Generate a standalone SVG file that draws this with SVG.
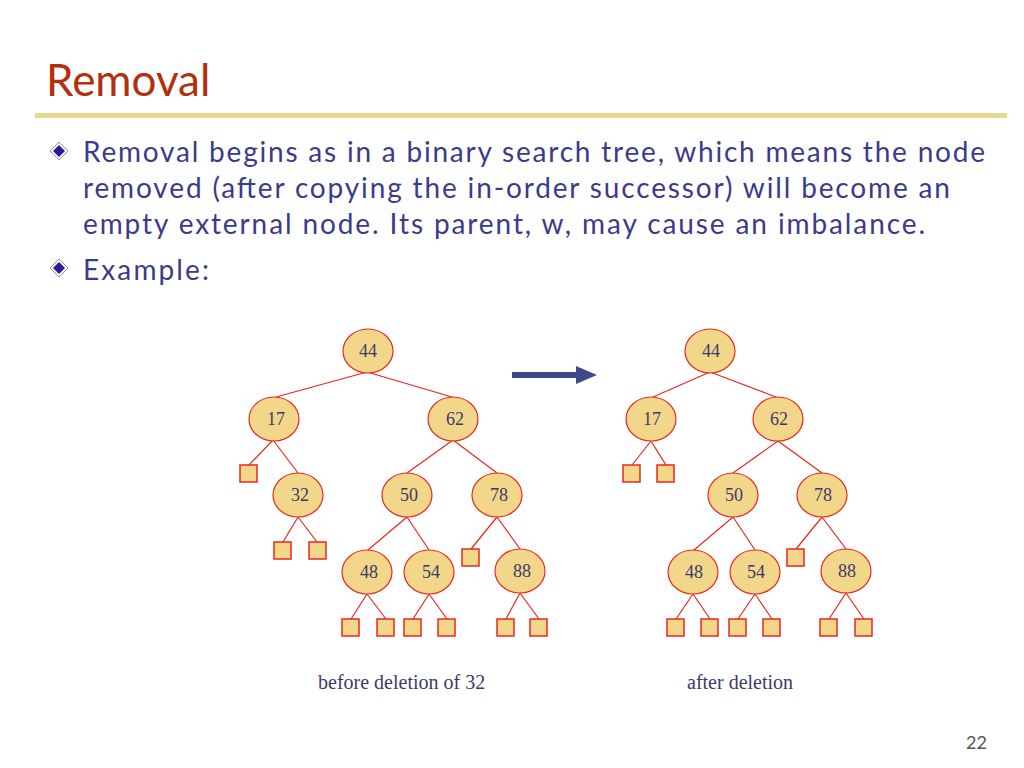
<svg xmlns="http://www.w3.org/2000/svg" width="1024" height="768" viewBox="0 0 1024 768">
<style>
.n ellipse{fill:#F2D68A;stroke:#E8281E;stroke-width:1.2}
.n text{font-family:"Liberation Serif",serif;font-size:18px;fill:#3B3B6B;text-anchor:middle}
.ext rect{fill:#F2D68A;stroke:#E8281E;stroke-width:1.5}
.c line{stroke:#E8281E;stroke-width:1.2}
.b{font-family:Lato,"Open Sans",sans-serif;font-size:28px;fill:#3B3B8C}
.cap{font-family:"Liberation Serif",serif;font-size:20px;fill:#3B3B6B}
</style>
<defs>
<g id="dia"><path d="M0,-9 L9,0 L0,9 L-9,0Z" fill="#fff" stroke="#9090C0"/><path d="M0,-6 L6,0 L0,6 L-6,0Z" fill="#2A1A9A"/></g>
</defs>
<rect width="1024" height="768" fill="#fff"/>
<text x="46" y="96" font-family="Lato,'Open Sans',sans-serif" font-size="44" fill="#B3300F">Removal</text>
<rect x="35" y="113" width="972" height="5" fill="#E8D890"/>
<use href="#dia" x="59" y="151"/>
<use href="#dia" x="59" y="268"/>
<text class="b" x="83" y="162" textLength="902">Removal begins as in a binary search tree, which means the node</text>
<text class="b" x="83" y="198" textLength="867">removed (after copying the in-order successor) will become an</text>
<text class="b" x="83" y="234" textLength="842">empty external node. Its parent, w, may cause an imbalance.</text>
<text class="b" x="83" y="280" textLength="126">Example:</text>
<g id="connectors" class="c">
<line x1="367" y1="372" x2="276" y2="397"/><line x1="367" y1="372" x2="452" y2="397"/>
<line x1="273" y1="440" x2="249" y2="465"/><line x1="273" y1="440" x2="298" y2="473"/>
<line x1="298" y1="517" x2="283" y2="542"/><line x1="298" y1="517" x2="317" y2="542"/>
<line x1="453" y1="440" x2="407" y2="473"/><line x1="453" y1="440" x2="497" y2="473"/>
<line x1="407" y1="517" x2="368" y2="550"/><line x1="407" y1="517" x2="429" y2="550"/>
<line x1="497" y1="517" x2="471" y2="549"/><line x1="497" y1="517" x2="520" y2="549"/>
<line x1="367" y1="594" x2="351" y2="619"/><line x1="367" y1="594" x2="386" y2="619"/>
<line x1="429" y1="594" x2="413" y2="619"/><line x1="429" y1="594" x2="447" y2="619"/>
<line x1="520" y1="593" x2="506" y2="619"/><line x1="520" y1="593" x2="539" y2="619"/>
<line x1="710" y1="372" x2="653" y2="397"/><line x1="710" y1="372" x2="776" y2="397"/>
<line x1="651" y1="441" x2="632" y2="465"/><line x1="651" y1="441" x2="666" y2="465"/>
<line x1="778" y1="441" x2="733" y2="473"/><line x1="778" y1="441" x2="822" y2="473"/>
<line x1="733" y1="517" x2="694" y2="550"/><line x1="733" y1="517" x2="755" y2="550"/>
<line x1="822" y1="517" x2="796" y2="549"/><line x1="822" y1="517" x2="846" y2="549"/>
<line x1="693" y1="594" x2="676" y2="619"/><line x1="693" y1="594" x2="710" y2="619"/>
<line x1="755" y1="594" x2="738" y2="619"/><line x1="755" y1="594" x2="772" y2="619"/>
<line x1="846" y1="593" x2="829" y2="619"/><line x1="846" y1="593" x2="864" y2="619"/>
</g>
<g id="ext" class="ext">
<rect x="240" y="465" width="17" height="17"/>
<rect x="274" y="542" width="17" height="17"/><rect x="309" y="542" width="17" height="17"/>
<rect x="462" y="549" width="17" height="17"/>
<rect x="342" y="619" width="17" height="17"/><rect x="377" y="619" width="17" height="17"/>
<rect x="404" y="619" width="17" height="17"/><rect x="438" y="619" width="17" height="17"/>
<rect x="497" y="619" width="17" height="17"/><rect x="530" y="619" width="17" height="17"/>
<rect x="623" y="465" width="17" height="17"/><rect x="657" y="465" width="17" height="17"/>
<rect x="787" y="549" width="17" height="17"/>
<rect x="667" y="619" width="17" height="17"/><rect x="701" y="619" width="17" height="17"/>
<rect x="729" y="619" width="17" height="17"/><rect x="763" y="619" width="17" height="17"/>
<rect x="820" y="619" width="17" height="17"/><rect x="855" y="619" width="17" height="17"/>
</g>
<g id="a44" class="n"><ellipse cx="368" cy="351" rx="25" ry="22"/><text x="368" y="357">44</text></g>
<g id="a17" class="n"><ellipse cx="274" cy="419" rx="25" ry="22"/><text x="276" y="425">17</text></g>
<g id="a62" class="n"><ellipse cx="453" cy="419" rx="25" ry="22"/><text x="455" y="425">62</text></g>
<g id="a32" class="n"><ellipse cx="298" cy="495" rx="25" ry="22"/><text x="300" y="501">32</text></g>
<g id="a50" class="n"><ellipse cx="407" cy="495" rx="25" ry="22"/><text x="409" y="501">50</text></g>
<g id="a78" class="n"><ellipse cx="497" cy="495" rx="25" ry="22"/><text x="499" y="501">78</text></g>
<g id="a48" class="n"><ellipse cx="367" cy="572" rx="25" ry="22"/><text x="369" y="578">48</text></g>
<g id="a54" class="n"><ellipse cx="429" cy="572" rx="25" ry="22"/><text x="431" y="578">54</text></g>
<g id="a88" class="n"><ellipse cx="520" cy="571" rx="25" ry="22"/><text x="522" y="577">88</text></g>
<g id="b44" class="n"><ellipse cx="710" cy="351" rx="25" ry="22"/><text x="711" y="357">44</text></g>
<g id="b17" class="n"><ellipse cx="651" cy="419" rx="25" ry="22"/><text x="652" y="425">17</text></g>
<g id="b62" class="n"><ellipse cx="778" cy="419" rx="25" ry="22"/><text x="779" y="425">62</text></g>
<g id="b50" class="n"><ellipse cx="733" cy="495" rx="25" ry="22"/><text x="734" y="501">50</text></g>
<g id="b78" class="n"><ellipse cx="822" cy="495" rx="25" ry="22"/><text x="823" y="501">78</text></g>
<g id="b48" class="n"><ellipse cx="693" cy="572" rx="25" ry="22"/><text x="694" y="578">48</text></g>
<g id="b54" class="n"><ellipse cx="755" cy="572" rx="25" ry="22"/><text x="756" y="578">54</text></g>
<g id="b88" class="n"><ellipse cx="846" cy="571" rx="25" ry="22"/><text x="847" y="577">88</text></g>
<g id="arrow"><rect x="512" y="372" width="66" height="6" fill="#3C4A8C"/><path d="M576,366 L597,375 L576,384Z" fill="#3C4A8C"/></g>
<text class="cap" x="318" y="689">before deletion of 32</text>
<text class="cap" x="687" y="689">after deletion</text>
<text x="966" y="749" font-family="Lato,sans-serif" font-size="18" fill="#555">22</text>
</svg>
